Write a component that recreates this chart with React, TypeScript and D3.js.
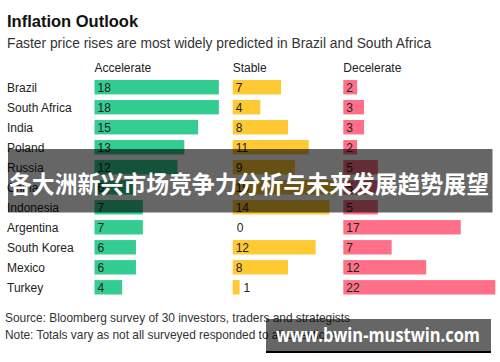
import { scaleLinear, scaleBand } from 'd3'

const countries = ['Brazil', 'South Africa', 'India', 'Poland', 'Russia', 'China', 'Indonesia', 'Argentina', 'South Korea', 'Mexico', 'Turkey']
const accelerate = [18, 18, 15, 13, 12, 6, 7, 7, 6, 6, 4]
const stable = [7, 4, 8, 11, 9, 15, 14, 0, 12, 8, 1]
const decelerate = [2, 3, 3, 2, 5, 5, 5, 17, 7, 12, 22]

const columns = [
    { name: 'Accelerate', values: accelerate, color: '#33cc91', x0: 94.5 },
    { name: 'Stable', values: stable, color: '#ffc933', x0: 232.7 },
    { name: 'Decelerate', values: decelerate, color: '#ff6f87', x0: 343.3 }
]

const font = '"Liberation Sans", Arial, sans-serif'

export default function App() {
    const width = 500
    const height = 362

    const x = scaleLinear().domain([0, 22]).range([0, 152])
    const y = scaleBand()
        .domain(countries)
        .range([80, 80 + 19.5 * countries.length])
        .paddingInner(0.28)
        .paddingOuter(0)
        .align(0)

    return (
        <svg width={width} height={height} style={{ position: 'absolute', left: 0, top: 0, display: 'block' }}
            fontFamily={font}>
            <rect width={width} height={height} fill='#fff' />
            <text x={7} y={27} fontSize={16.5} fontWeight='bold' fill='#111'>Inflation Outlook</text>
            <text x={7} y={48} fontSize={13.8} fill='#333'>Faster price rises are most widely predicted in Brazil and South Africa</text>

            {columns.map(col => (
                <g key={col.name}>
                    <text x={col.x0} y={72} fontSize={12} fill='#222'>{col.name}</text>
                    {countries.map((c, i) => {
                        const v = col.values[i]
                        const w = x(v)
                        const by = y(c) as number
                        const bh = y.bandwidth()
                        const tx = w < 12 ? col.x0 + w + 4 : col.x0 + 3
                        return (
                            <g key={c}>
                                {v > 0 && <rect x={col.x0} y={by} width={w} height={bh} fill={col.color} />}
                                <text x={tx} y={by + bh / 2 + 4.5} fontSize={12} fill='#222'>{v}</text>
                            </g>
                        )
                    })}
                </g>
            ))}

            {countries.map(c => (
                <text key={c} x={7} y={(y(c) as number) + y.bandwidth() / 2 + 4.5} fontSize={12} fill='#222'>{c}</text>
            ))}

            <text x={5} y={322} fontSize={11.9} fill='#333'>Source: Bloomberg survey of 30 investors, traders and strategists</text>
            <text x={5} y={339} fontSize={11.9} fill='#333'>Note: Totals vary as not all surveyed responded to all questions</text>

            {/* overlay banner */}
            <rect x={8} y={149} width={484.5} height={63.5} fill='#000' fillOpacity={0.6} />
            <text x={9} y={193} fontSize={24} fontWeight='bold' fill='#fff'
                textLength={480} lengthAdjust='spacingAndGlyphs'
                fontFamily='"Noto Sans CJK SC", sans-serif'>各大洲新兴市场竞争力分析与未来发展趋势展望</text>

            {/* watermark */}
            <rect x={266} y={319} width={225} height={33} fill='#000' fillOpacity={0.6} />
            <rect x={266} y={351} width={225} height={2} fill='#000' />
            <text x={276} y={342} fontSize={19} fontWeight='bold' fill='#fff'
                textLength={204} lengthAdjust='spacingAndGlyphs'
                fontFamily='"Open Sans", "DejaVu Sans", sans-serif'>www.bwin-mustwin.com</text>
        </svg>
    )
}
